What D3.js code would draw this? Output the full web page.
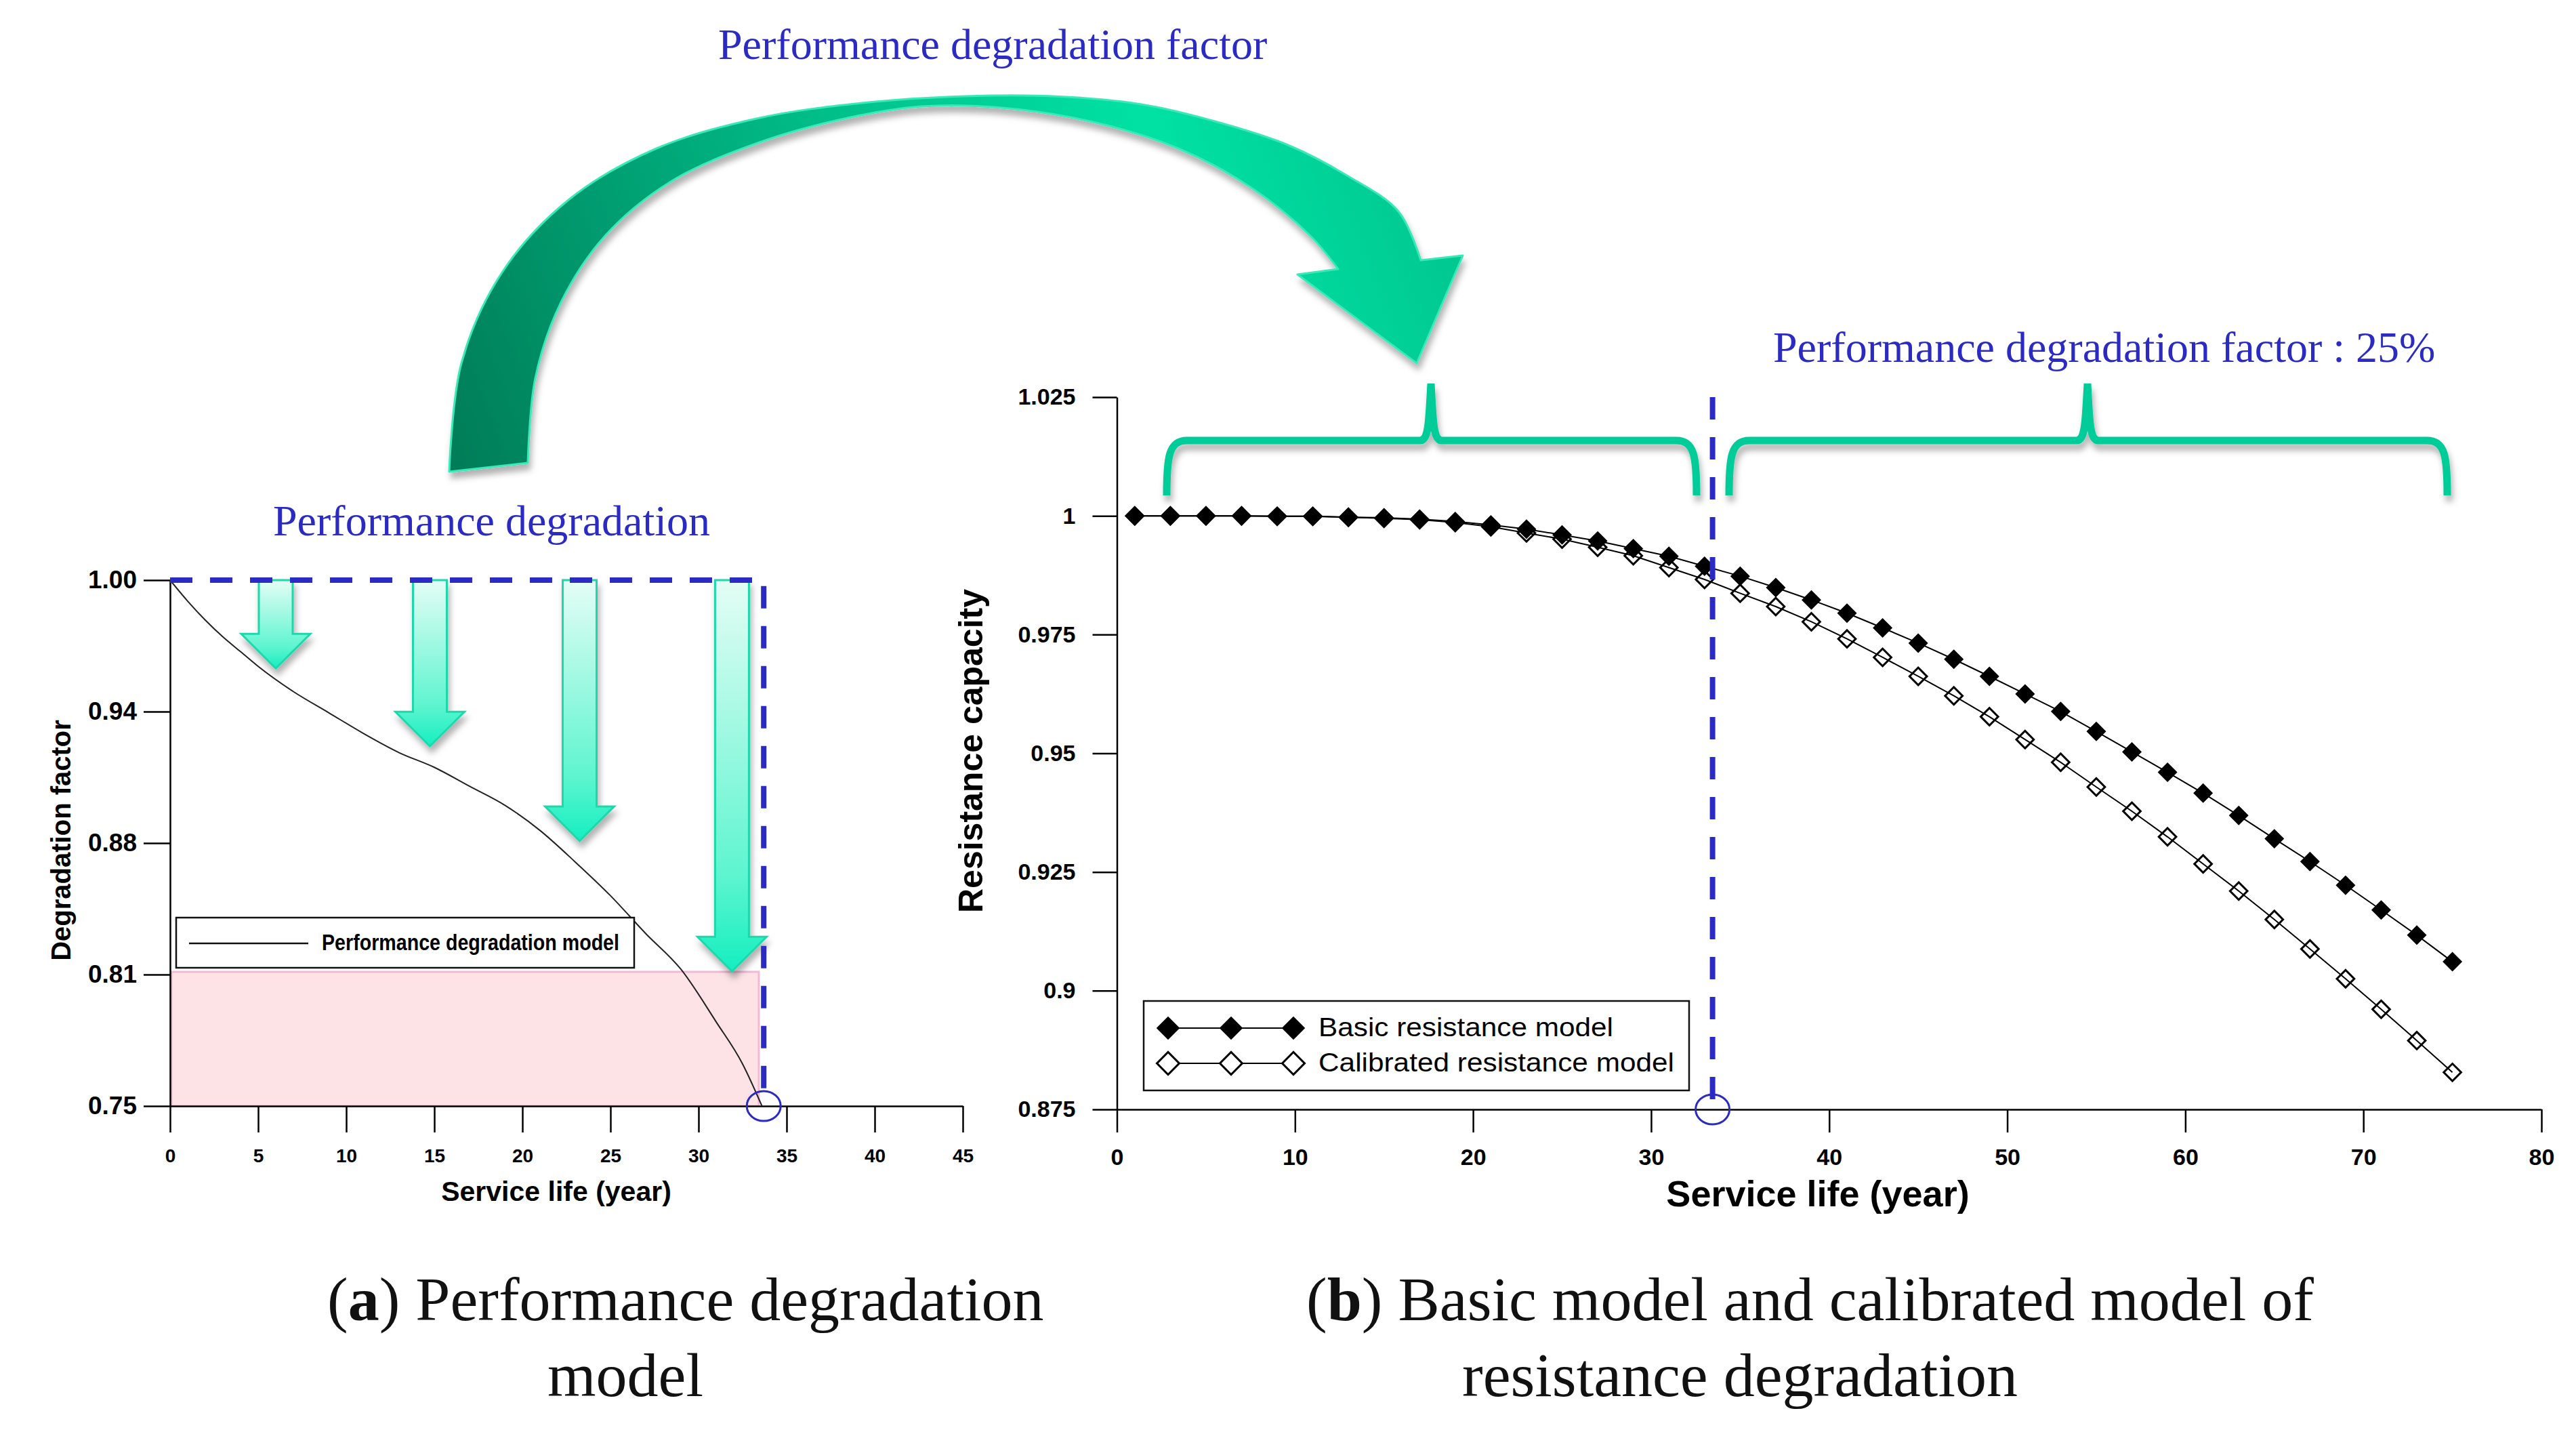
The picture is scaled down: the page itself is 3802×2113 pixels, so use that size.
<!DOCTYPE html>
<html>
<head>
<meta charset="utf-8">
<script src="https://cdn.jsdelivr.net/npm/d3@7/dist/d3.min.js"></script>
<style>
  body { margin: 0; background: #fff; }
  svg { display: block; }
</style>
</head>
<body>
<script>
// (a) performance degradation model
var leftYears = [0, 1, 2, 3, 4, 5, 7, 9, 11, 13, 15, 17, 19, 21, 23, 25, 27, 29, 31, 32.5, 33.6];
var leftFactor = [1.000, 0.990, 0.981, 0.973, 0.966, 0.959, 0.947, 0.937, 0.927, 0.918, 0.911, 0.902,
                  0.893, 0.881, 0.866, 0.850, 0.832, 0.815, 0.790, 0.770, 0.750];
var leftXTicks = [0, 5, 10, 15, 20, 25, 30, 35, 40, 45];
var leftYTicks = [1.0, 0.9375, 0.875, 0.8125, 0.75];
var arrowYears = [6, 14.75, 23.25, 31.9];       // green down arrows
var arrowTips = [0.958, 0.921, 0.876, 0.814];
var leftLimitYear = 33.7;
var shadedTop = 0.8125;

// (b) basic and calibrated resistance
var rightYears = [1, 3, 5, 7, 9, 11, 13, 15, 17, 19, 21, 23, 25, 27, 29, 31, 33, 35, 37,
                  39, 41, 43, 45, 47, 49, 51, 53, 55, 57, 59, 61, 63, 65, 67, 69, 71, 73, 75];
var basicValues = [1.0000, 1.0000, 1.0000, 1.0000, 0.9999, 0.9999, 0.9997, 0.9996, 0.9993, 0.9988,
                   0.9981, 0.9972, 0.9960, 0.9947, 0.9931, 0.9915, 0.9894, 0.9873, 0.9849, 0.9823,
                   0.9795, 0.9764, 0.9732, 0.9698, 0.9662, 0.9625, 0.9588, 0.9546, 0.9503, 0.9460,
                   0.9416, 0.9369, 0.9320, 0.9272, 0.9222, 0.9170, 0.9117, 0.9061];
var calibratedValues = [1.0000, 1.0000, 1.0000, 1.0000, 0.9999, 0.9999, 0.9997, 0.9995, 0.9992, 0.9986,
                        0.9977, 0.9964, 0.9951, 0.9934, 0.9916, 0.9891, 0.9866, 0.9837, 0.9809, 0.9777,
                        0.9741, 0.9702, 0.9662, 0.9621, 0.9577, 0.9529, 0.9481, 0.9429, 0.9378, 0.9324,
                        0.9267, 0.9210, 0.9150, 0.9088, 0.9025, 0.8961, 0.8895, 0.8828];
var rightXTicks = [0, 10, 20, 30, 40, 50, 60, 70, 80];
var rightYTicks = [0.875, 0.9, 0.925, 0.95, 0.975, 1, 1.025];
var rightLimitYear = 33.45;
var seriesNames = ["Basic resistance model", "Calibrated resistance model"];

var width = 3802, height = 2113;
var blue = "#2b2bc4", teal = "#00cc99";
var sans = "'Liberation Sans', Arial, sans-serif";
var serif = "'Liberation Serif', 'Times New Roman', serif";

var svg = d3.select("body").append("svg")
    .attr("width", width)
    .attr("height", height);

var defs = svg.append("defs");

var shadow = defs.append("filter").attr("id", "shadow")
    .attr("x", "-30%").attr("y", "-30%").attr("width", "160%").attr("height", "180%");
shadow.append("feDropShadow")
    .attr("dx", 3).attr("dy", 9).attr("stdDeviation", 5)
    .attr("flood-color", "#000").attr("flood-opacity", 0.3);

var downGrad = defs.append("linearGradient").attr("id", "downGrad")
    .attr("x1", 0).attr("y1", 0).attr("x2", 0).attr("y2", 1);
downGrad.append("stop").attr("offset", 0).attr("stop-color", "#e4fdf5");
downGrad.append("stop").attr("offset", 0.75).attr("stop-color", "#5ff5d0");
downGrad.append("stop").attr("offset", 1).attr("stop-color", "#14eec0");

var bigGrad = defs.append("linearGradient").attr("id", "bigGrad")
    .attr("gradientUnits", "userSpaceOnUse")
    .attr("x1", 680).attr("y1", 700).attr("x2", 2150).attr("y2", 150);
bigGrad.append("stop").attr("offset", 0).attr("stop-color", "#007d58");
bigGrad.append("stop").attr("offset", 0.45).attr("stop-color", "#00c08a");
bigGrad.append("stop").attr("offset", 0.72).attr("stop-color", "#00e2a4");
bigGrad.append("stop").attr("offset", 1).attr("stop-color", "#00c28c");

// ---------- scales ----------
var xL = d3.scaleLinear().domain([0, 45]).range([251, 1421]);
var yL = d3.scaleLinear().domain([0.75, 1.0]).range([1632, 856]);
var xR = d3.scaleLinear().domain([0, 80]).range([1648.5, 3751]);
var yR = d3.scaleLinear().domain([0.875, 1.025]).range([1637, 586]);

function styleAxis(g, size) {
    g.selectAll(".domain").attr("stroke", "#000").attr("stroke-width", 2.5);
    g.selectAll(".tick line").attr("stroke", "#000").attr("stroke-width", 2.5);
    g.selectAll(".tick text")
        .attr("fill", "#000")
        .style("font-family", sans)
        .style("font-weight", "bold")
        .style("font-size", size + "px");
}

// ---------- (a) left panel ----------
var left = svg.append("g");

// shaded region below 0.81
left.append("rect")
    .attr("x", xL(0) + 2)
    .attr("y", yL(shadedTop) - 4)
    .attr("width", xL(33.42) - xL(0) - 2)
    .attr("height", yL(0.75) - yL(shadedTop) + 4)
    .attr("fill", "#fde3e6")
    .attr("stroke", "#f3b8d4")
    .attr("stroke-width", 3);

left.append("g")
    .attr("transform", "translate(0," + yL(0.75) + ")")
    .call(d3.axisBottom(xL).tickValues(leftXTicks).tickSize(39).tickSizeOuter(0).tickPadding(24))
    .call(styleAxis, 28);

left.append("g")
    .attr("transform", "translate(" + xL(0) + ",0)")
    .call(d3.axisLeft(yL).tickValues(leftYTicks).tickFormat(d3.format(".2f"))
        .tickSize(39).tickSizeOuter(0).tickPadding(10))
    .call(styleAxis, 37);

// degradation curve
var leftLine = d3.line()
    .x(function(d, i) { return xL(leftYears[i]); })
    .y(function(d) { return yL(d); })
    .curve(d3.curveMonotoneX);

left.append("path")
    .datum(leftFactor)
    .attr("d", leftLine)
    .attr("fill", "none")
    .attr("stroke", "#222")
    .attr("stroke-width", 2);

// green down arrows
left.selectAll(".downArrow")
    .data(arrowYears)
    .enter()
    .append("path")
    .attr("class", "downArrow")
    .attr("d", function(d, i) {
        var cx = xL(d), top = yL(1.0), tip = yL(arrowTips[i]), hb = tip - 51;
        return "M" + (cx - 25) + "," + top + "L" + (cx + 25) + "," + top +
               "L" + (cx + 25) + "," + hb + "L" + (cx + 51) + "," + hb +
               "L" + cx + "," + tip + "L" + (cx - 51) + "," + hb +
               "L" + (cx - 25) + "," + hb + "Z";
    })
    .attr("fill", "url(#downGrad)")
    .attr("stroke", "#1fd8aa")
    .attr("stroke-width", 3)
    .attr("filter", "url(#shadow)");

// blue dashed frame
left.append("path")
    .attr("d", "M" + xL(0) + "," + yL(1.0) + "H" + xL(leftLimitYear) + "V" + yL(0.75))
    .attr("fill", "none")
    .attr("stroke", blue)
    .attr("stroke-width", 8)
    .attr("stroke-dasharray", "33,26");

left.append("ellipse")
    .attr("cx", xL(leftLimitYear))
    .attr("cy", yL(0.75))
    .attr("rx", 25).attr("ry", 22)
    .attr("fill", "none")
    .attr("stroke", blue)
    .attr("stroke-width", 3);

// legend (a)
left.append("rect")
    .attr("x", 260).attr("y", 1354).attr("width", 676).attr("height", 74)
    .attr("fill", "#fff").attr("stroke", "#111").attr("stroke-width", 2.5);
left.append("line")
    .attr("x1", 279).attr("x2", 455).attr("y1", 1392).attr("y2", 1392)
    .attr("stroke", "#111").attr("stroke-width", 2.5);
left.append("text")
    .attr("x", 475).attr("y", 1402)
    .attr("textLength", 439).attr("lengthAdjust", "spacingAndGlyphs")
    .style("font-family", "'Liberation Sans Narrow', 'Arial Narrow', " + sans)
    .style("font-weight", "bold")
    .style("font-size", "33px")
    .text("Performance degradation model");

left.append("text")
    .attr("transform", "translate(104,1240) rotate(-90)")
    .attr("text-anchor", "middle")
    .style("font-family", sans).style("font-weight", "bold").style("font-size", "40px")
    .text("Degradation factor");

left.append("text")
    .attr("x", 821).attr("y", 1772)
    .attr("text-anchor", "middle")
    .style("font-family", sans).style("font-weight", "bold").style("font-size", "41px")
    .text("Service life (year)");

left.append("text")
    .attr("x", 403).attr("y", 790)
    .attr("fill", blue)
    .style("font-family", serif).style("font-size", "64px")
    .text("Performance degradation");

// ---------- big curved arrow ----------
var outerEdge = [[663, 696], [681, 536], [741, 402], [839, 295], [969, 219], [1121, 174], [1272, 152],
                 [1424, 142], [1554, 142], [1685, 154], [1793, 179], [1901, 214], [1988, 259],
                 [2064, 312], [2097, 384]];
var innerEdge = [[1975, 397], [1934, 348], [1847, 277], [1739, 219], [1609, 179], [1468, 158],
                 [1359, 157], [1251, 174], [1121, 210], [990, 268], [893, 348], [828, 446],
                 [790, 558], [779, 683]];
var edge = d3.line().curve(d3.curveCatmullRom);
var bigPath = edge(outerEdge) +
    "L2159,377L2091,536L1915,405" +
    edge(innerEdge).replace("M", "L") + "Z";

svg.append("path")
    .attr("d", bigPath)
    .attr("fill", "url(#bigGrad)")
    .attr("stroke", "#3ae8b8")
    .attr("stroke-width", 3)
    .attr("stroke-linejoin", "round")
    .attr("filter", "url(#shadow)");

svg.append("text")
    .attr("x", 1060).attr("y", 87)
    .attr("fill", blue)
    .style("font-family", serif).style("font-size", "64px")
    .text("Performance degradation factor");

// ---------- (b) right panel ----------
var right = svg.append("g");

right.append("g")
    .attr("transform", "translate(0," + yR(0.875) + ")")
    .call(d3.axisBottom(xR).tickValues(rightXTicks).tickSize(34).tickSizeOuter(0).tickPadding(24))
    .call(styleAxis, 34);

right.append("g")
    .attr("transform", "translate(" + xR(0) + ",0)")
    .call(d3.axisLeft(yR).tickValues(rightYTicks).tickFormat(function(d) { return String(d); })
        .tickSize(36).tickSizeOuter(0).tickPadding(25))
    .call(styleAxis, 34);

var diamond = d3.symbol().type(d3.symbolSquare);

function drawSeries(values, filled, size) {
    var line = d3.line()
        .x(function(d, i) { return xR(rightYears[i]); })
        .y(function(d) { return yR(d); });
    right.append("path")
        .datum(values)
        .attr("d", line)
        .attr("fill", "none")
        .attr("stroke", "#000")
        .attr("stroke-width", 2);
    right.selectAll(null)
        .data(values)
        .enter()
        .append("path")
        .attr("d", diamond.size(size))
        .attr("transform", function(d, i) {
            return "translate(" + xR(rightYears[i]) + "," + yR(d) + ") rotate(45)";
        })
        .attr("fill", filled ? "#000" : "none")
        .attr("stroke", "#000")
        .attr("stroke-width", filled ? 1 : 3);
}
drawSeries(calibratedValues, false, 330);
drawSeries(basicValues, true, 380);

// dashed service-life limit
right.append("line")
    .attr("x1", xR(rightLimitYear)).attr("x2", xR(rightLimitYear))
    .attr("y1", yR(1.025)).attr("y2", yR(0.875))
    .attr("stroke", blue)
    .attr("stroke-width", 8)
    .attr("stroke-dasharray", "33,26");

right.append("ellipse")
    .attr("cx", xR(rightLimitYear)).attr("cy", yR(0.875))
    .attr("rx", 25).attr("ry", 22)
    .attr("fill", "none")
    .attr("stroke", blue)
    .attr("stroke-width", 3);

// braces
function brace(x1, pk, x2) {
    var yb = 731, yh = 650, yt = 566, r = 30;
    return "M" + x1 + "," + yb +
        "C" + x1 + "," + (yh + 24) + " " + (x1 + 3) + "," + yh + " " + (x1 + r) + "," + yh +
        "L" + (pk - 16) + "," + yh +
        "C" + (pk - 4) + "," + yh + " " + (pk - 3) + "," + (yh - 25) + " " + pk + "," + yt +
        "C" + (pk + 3) + "," + (yh - 25) + " " + (pk + 4) + "," + yh + " " + (pk + 16) + "," + yh +
        "L" + (x2 - r) + "," + yh +
        "C" + (x2 - 3) + "," + yh + " " + x2 + "," + (yh + 24) + " " + x2 + "," + yb;
}
right.selectAll(".brace")
    .data([[1722, 2112, 2504], [2552, 3081, 3612]])
    .enter()
    .append("path")
    .attr("class", "brace")
    .attr("d", function(d) { return brace(d[0], d[1], d[2]); })
    .attr("fill", "none")
    .attr("stroke", teal)
    .attr("stroke-width", 11)
    .attr("filter", "url(#shadow)");

// legend (b)
right.append("rect")
    .attr("x", 1688).attr("y", 1477).attr("width", 805).attr("height", 132)
    .attr("fill", "#fff").attr("stroke", "#111").attr("stroke-width", 2.5);

var legendRows = right.selectAll(".legendRow")
    .data(seriesNames)
    .enter()
    .append("g")
    .attr("class", "legendRow")
    .attr("transform", function(d, i) { return "translate(0," + (1517 + i * 52) + ")"; });

legendRows.append("line")
    .attr("x1", 1724).attr("x2", 1909)
    .attr("stroke", "#000").attr("stroke-width", 2);

legendRows.selectAll(".mk")
    .data(function(d, i) { return [[1724, i], [1817, i], [1909, i]]; })
    .enter()
    .append("path")
    .attr("d", diamond.size(545))
    .attr("transform", function(d) { return "translate(" + d[0] + ",0) rotate(45)"; })
    .attr("fill", function(d) { return d[1] === 0 ? "#000" : "#fff"; })
    .attr("stroke", "#000")
    .attr("stroke-width", function(d) { return d[1] === 0 ? 1 : 3; });

legendRows.append("text")
    .attr("x", 1946).attr("y", 12)
    .attr("textLength", function(d, i) { return i === 0 ? 435 : 525; })
    .attr("lengthAdjust", "spacingAndGlyphs")
    .style("font-family", sans).style("font-size", "38px")
    .text(function(d) { return d; });

right.append("text")
    .attr("transform", "translate(1450,1108) rotate(-90)")
    .attr("text-anchor", "middle")
    .style("font-family", sans).style("font-weight", "bold").style("font-size", "50px")
    .text("Resistance capacity");

right.append("text")
    .attr("x", 2683).attr("y", 1780)
    .attr("text-anchor", "middle")
    .style("font-family", sans).style("font-weight", "bold").style("font-size", "54px")
    .text("Service life (year)");

right.append("text")
    .attr("x", 2617).attr("y", 534)
    .attr("fill", blue)
    .style("font-family", serif).style("font-size", "64px")
    .text("Performance degradation factor : 25%");

// ---------- captions ----------
function caption(x, y, letter, rest) {
    var t = svg.append("text")
        .attr("x", x).attr("y", y)
        .style("font-family", serif).style("font-size", "92px")
        .attr("fill", "#111");
    if (letter) {
        t.append("tspan").text("(");
        t.append("tspan").style("font-weight", "bold").text(letter);
        t.append("tspan").text(")" + rest);
    } else {
        t.text(rest);
    }
}
caption(483, 1948, "a", " Performance degradation");
caption(808, 2060, null, "model");
caption(1928, 1948, "b", " Basic model and calibrated model of");
caption(2158, 2060, null, "resistance degradation");
</script>
</body>
</html>
